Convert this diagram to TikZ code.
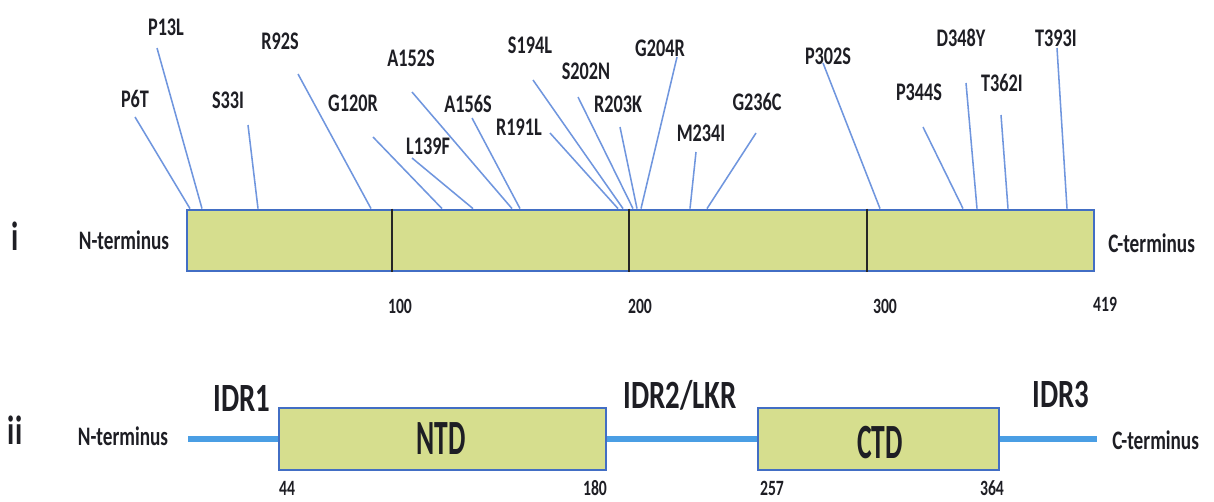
\documentclass[tikz,border=0pt]{standalone}
\usepackage{fontspec}
\setmainfont{Carlito}
\newfontfamily\condfont[FakeStretch=0.72]{Carlito}
\newfontfamily\narrowfont[FakeStretch=0.56]{Carlito}
\usepackage{tikz}
\usetikzlibrary{positioning,fit,calc}
\definecolor{pFill}{RGB}{214,222,142}
\definecolor{pLine}{RGB}{66,110,196}
\definecolor{mLine}{RGB}{112,150,222}
\definecolor{cLine}{RGB}{74,158,228}
\definecolor{tGrey}{RGB}{30,30,36}
\tikzset{
  protbar/.style={rectangle, draw=pLine, fill=pFill, line width=2pt, inner sep=0pt},
  dombox/.style={protbar},
  domlbl/.style={inner sep=0pt, text=tGrey,
                 font=\narrowfont\bfseries\fontsize{35}{38}\selectfont},
  mut/.style={inner sep=0pt, text=tGrey, font=\condfont\bfseries\fontsize{18}{20}\selectfont},
  mutline/.style={draw=mLine, line width=1.1pt},
  divider/.style={draw=black!85, line width=1.6pt},
  termlbl/.style={inner sep=0pt, text=tGrey, font=\condfont\bfseries\fontsize{19}{21}\selectfont},
  poslbl/.style={inner sep=0pt, text=tGrey, font=\condfont\bfseries\fontsize{15.5}{17}\selectfont},
  idrlbl/.style={inner sep=0pt, text=tGrey, font=\condfont\bfseries\fontsize{28.5}{30}\selectfont},
  romanlbl/.style={inner sep=0pt, text=tGrey, anchor=base,
                   font=\condfont\bfseries\fontsize{29}{30}\selectfont},
  chainline/.style={draw=cLine, line width=4.3pt},
}
% mutation label, its foot, and the line down to the bar
\newcommand{\Mutation}[4]{%
  \node[mut] (#1) at (#2) {#1};
  \coordinate (#1-foot) at (#3);
  \draw[mutline] (#1-foot) -- (#4,0 |- protein.north);}

\begin{document}
\begin{tikzpicture}[x=0.025cm, y=-0.025cm]
  \useasboundingbox (0,0) rectangle (1214,501);

  % --- i: full-length protein with mutations
  \node[romanlbl] (rowi) at (15,250) {i};
  \node[termlbl] (nti) at (124,240) {N-terminus};
  \node[protbar, fit={(187,210) (1094,271)}] (protein) {};
  \node[termlbl, anchor=west] (cti) at (1108,243) {C-terminus};

  \draw[divider] (392,0 |- protein.north) -- (392,0 |- protein.south);
  \draw[divider] (629,0 |- protein.north) -- (629,0 |- protein.south);
  \draw[divider] (867,0 |- protein.north) -- (867,0 |- protein.south);

  \node[poslbl] (t100) at (400,306) {100};
  \node[poslbl] (t200) at (640,306) {200};
  \node[poslbl] (t300) at (885,306) {300};
  \node[poslbl] (t419) at (1105,304) {419};

  \Mutation{P6T}{135,99}{135,117}{190}
  \Mutation{P13L}{166,27}{157,48}{202}
  \Mutation{S33I}{228,100}{248,125}{258}
  \Mutation{R92S}{280,41}{298,74}{371}
  \Mutation{G120R}{353,103}{373,137}{442}
  \Mutation{L139F}{428,146}{412,158}{473}
  \Mutation{A152S}{411,58}{412,92}{512}
  \Mutation{A156S}{468,104}{472,118}{520}
  \Mutation{R191L}{519,127}{550,133}{618}
  \Mutation{S194L}{530,45}{533,80}{623}
  \Mutation{S202N}{586,71}{578,97}{633}
  \Mutation{R203K}{618,104}{620,127}{637}
  \Mutation{G204R}{660,48}{677,57}{641}
  \Mutation{M234I}{701,133}{696,152}{690}
  \Mutation{G236C}{757,102}{756,133}{707}
  \Mutation{P302S}{828,56}{823,63}{880}
  \Mutation{P344S}{919,92}{923,127}{963}
  \Mutation{D348Y}{961,38}{966,83}{977}
  \Mutation{T362I}{1002,83}{1001,115}{1008}
  \Mutation{T393I}{1056,38}{1057,48}{1067}

  % --- ii: domain organisation
  \node[romanlbl] (rowii) at (15,444) {ii};
  \node[termlbl] (ntii) at (123,436) {N-terminus};
  \node[dombox, fit={(279,408) (606,470)}] (NTD) {};
  \node[dombox, fit={(758,408) (999,470)}] (CTD) {};
  \coordinate (nchain) at (188,0 |- NTD.west);
  \coordinate (cchain) at (1097,0 |- CTD.east);
  \node[termlbl, anchor=west] (ctii) at (1112,440) {C-terminus};

  \draw[chainline] (nchain) -- (NTD.west);
  \draw[chainline] (NTD.east) -- (CTD.west);
  \draw[chainline] (CTD.east) -- (cchain);
  \node[domlbl] (ntdlbl) at (441,439) {NTD};
  \node[domlbl] (ctdlbl) at (880,443) {CTD};

  \node[idrlbl] (idr1) at (242,398) {IDR1};
  \node[idrlbl] (idr2) at (680,395) {IDR2/LKR};
  \node[idrlbl] (idr3) at (1061,394) {IDR3};

  \node[poslbl] (p44) at (287,488) {44};
  \node[poslbl] (p180) at (595,488) {180};
  \node[poslbl] (p257) at (772,488) {257};
  \node[poslbl] (p364) at (992,488) {364};
\end{tikzpicture}
\end{document}
